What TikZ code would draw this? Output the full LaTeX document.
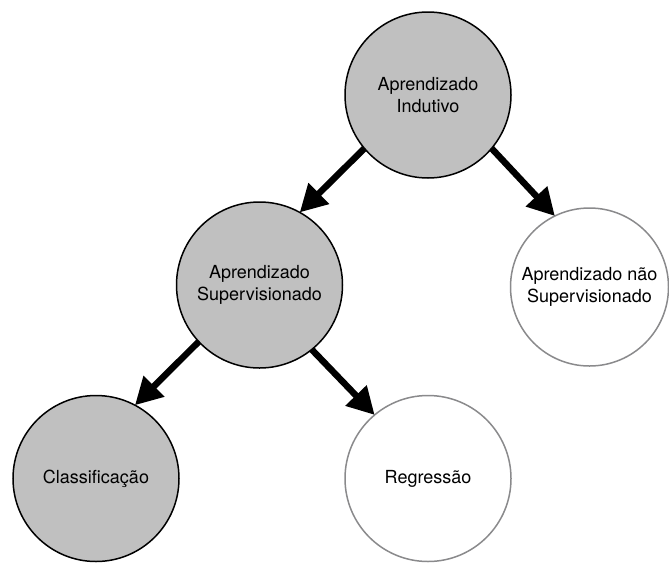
\documentclass[tikz,border=0pt]{standalone}
\usepackage{fontspec}
\setmainfont{TeX Gyre Heros}
\usetikzlibrary{arrows.meta}

\definecolor{nodefill}{RGB}{192,192,192}
\definecolor{openline}{RGB}{138,138,140}

\tikzset{
  concept/.style={circle, inner sep=0pt, outer sep=0pt, minimum size=166pt,
    align=center, font=\fontsize{18}{22}\selectfont, line width=1.5pt},
  filledconcept/.style={concept, draw=black, fill=nodefill},
  openconcept/.style={concept, draw=openline, fill=white},
  link/.style={line width=6.5pt, -{Triangle[length=27pt, width=28pt]}}
}

\begin{document}
\begin{tikzpicture}[x=1pt, y=-1pt]
  \useasboundingbox (0,0) rectangle (669,563);

  \node[filledconcept] (indutivo) at (428,95) {Aprendizado\\Indutivo};
  \node[filledconcept] (superv) at (259.5,285) {Aprendizado\\Supervisionado};
  \node[openconcept, minimum size=158pt] (naosuperv) at (589.5,287) {Aprendizado não\\Supervisionado};
  \node[filledconcept] (classif) at (96,478.5) {Classificação};
  \node[openconcept] (regr) at (428,478.5) {Regressão};

  \draw[link] (indutivo.220) -- (superv.61);
  \draw[link] (indutivo.320) -- (naosuperv.116);
  \draw[link] (superv.223) -- (classif.62);
  \draw[link] (superv.309) -- (regr.130);
\end{tikzpicture}
\end{document}
